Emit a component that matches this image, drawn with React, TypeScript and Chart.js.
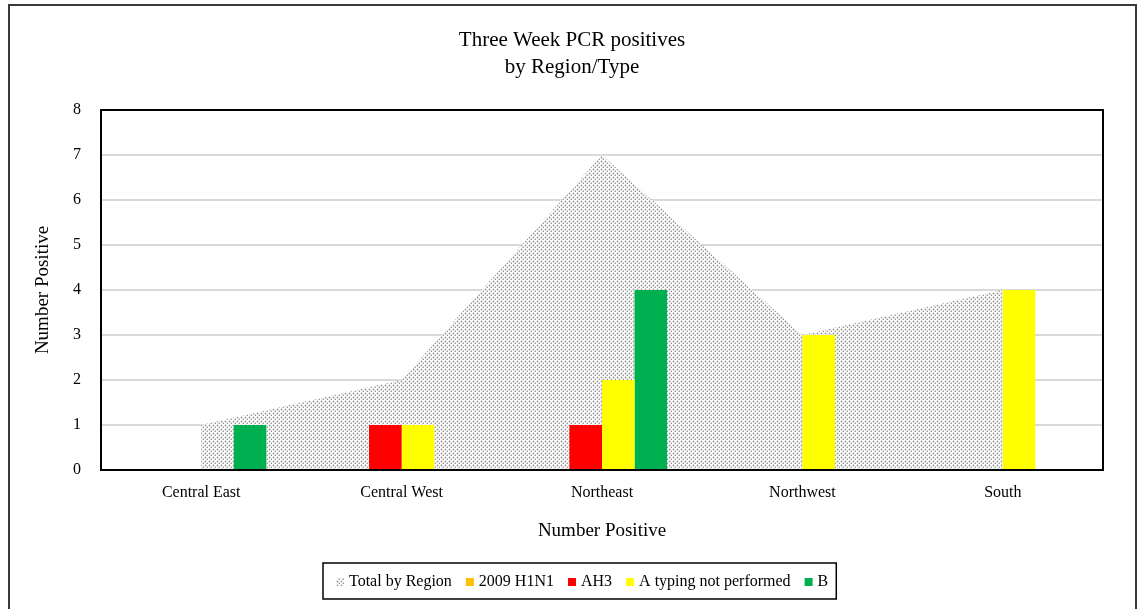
import React, { useEffect, useRef } from "react";
import { Chart, registerables } from "chart.js";

Chart.register(...registerables);

const categories = ["Central East", "Central West", "Northeast", "Northwest", "South"];
const totalByRegion = [1, 2, 7, 3, 4];
const h1n1 = [0, 0, 0, 0, 0];
const ah3 = [0, 1, 1, 0, 0];
const notTyped = [0, 1, 2, 3, 4];
const typeB = [1, 0, 4, 0, 0];
const seriesLabels = ["Total by Region", "2009 H1N1", "AH3", "A typing not performed", "B"];
const titleLines = ["Three Week PCR positives", "by Region/Type"];
const axisTitle = "Number Positive";

const FONT = "'Liberation Serif', 'Times New Roman', serif";

function makePattern(): CanvasPattern | string {
  const c = document.createElement("canvas");
  c.width = 4;
  c.height = 4;
  const g = c.getContext("2d");
  if (!g) return "#cccccc";
  g.fillStyle = "#ffffff";
  g.fillRect(0, 0, 4, 4);
  g.fillStyle = "#959595";
  g.beginPath();
  g.arc(1.5, 1.5, 0.9, 0, Math.PI * 2);
  g.fill();
  g.beginPath();
  g.arc(3.5, 3.5, 0.9, 0, Math.PI * 2);
  g.fill();
  const p = g.createPattern(c, "repeat");
  return p || "#cccccc";
}

export default function App() {
  const ref = useRef<HTMLCanvasElement | null>(null);

  useEffect(() => {
    const canvas = ref.current;
    if (!canvas) return;
    const pattern = makePattern();

    const framePlugin = {
      id: "framePlugin",
      beforeDraw(chart: any) {
        const ctx = chart.ctx;
        ctx.save();
        ctx.fillStyle = "#ffffff";
        ctx.fillRect(0, 0, chart.width, chart.height);
        ctx.strokeStyle = "#3a3a3a";
        ctx.lineWidth = 2;
        ctx.strokeRect(9, 5, 1127, 620);
        ctx.restore();
      },
      afterDatasetsDraw(chart: any) {
        const ctx = chart.ctx;
        const a = chart.chartArea;
        ctx.save();
        ctx.strokeStyle = "#000000";
        ctx.lineWidth = 2;
        ctx.strokeRect(a.left, a.top, a.right - a.left, a.bottom - a.top);
        ctx.restore();
      },
      afterDraw(chart: any) {
        const ctx = chart.ctx;
        ctx.save();
        ctx.fillStyle = "#000000";
        ctx.font = `21px ${FONT}`;
        ctx.textAlign = "center";
        ctx.textBaseline = "middle";
        ctx.fillText(titleLines[0], 572, 40);
        ctx.fillText(titleLines[1], 572, 67);
        const ds = chart.data.datasets;
        ctx.font = `16px ${FONT}`;
        ctx.textAlign = "left";
        ctx.textBaseline = "middle";
        let x = 336;
        const cy = 582;
        const widths = ds.map((d: any) => ctx.measureText(d.label).width);
        let total = 0;
        ds.forEach((d: any, i: number) => {
          total += 8 + 5 + widths[i] + (i < ds.length - 1 ? 14 : 0);
        });
        const boxLeft = 323;
        const boxRight = Math.max(835, x + total + 8);
        ctx.strokeStyle = "#000000";
        ctx.lineWidth = 1.5;
        ctx.strokeRect(boxLeft, 563, boxRight - boxLeft, 36);
        ds.forEach((d: any, i: number) => {
          ctx.fillStyle = d.backgroundColor;
          ctx.fillRect(x, cy - 4, 8, 8);
          ctx.fillStyle = "#000000";
          ctx.fillText(d.label, x + 13, cy);
          x += 8 + 5 + widths[i] + 14;
        });
        ctx.restore();
      },
    };

    const chart = new Chart(canvas, {
      type: "bar",
      data: {
        labels: categories,
        datasets: [
          {
            type: "line",
            label: seriesLabels[0],
            data: totalByRegion,
            backgroundColor: pattern as any,
            borderColor: "rgba(0,0,0,0)",
            borderWidth: 0,
            pointRadius: 0,
            fill: "origin",
            tension: 0,
          } as any,
          { label: seriesLabels[1], data: h1n1, backgroundColor: "#ffc000" },
          { label: seriesLabels[2], data: ah3, backgroundColor: "#ff0000" },
          { label: seriesLabels[3], data: notTyped, backgroundColor: "#ffff00" },
          { label: seriesLabels[4], data: typeB, backgroundColor: "#00b050" },
        ],
      },
      options: {
        responsive: false,
        animation: false,
        events: [],
        layout: { padding: { top: 110, right: 36, bottom: 59, left: 0 } },
        datasets: {
          bar: { categoryPercentage: 0.65, barPercentage: 1, borderWidth: 0 },
        },
        plugins: {
          legend: { display: false },
          title: { display: false },
          tooltip: { enabled: false },
          filler: { drawTime: "beforeDatasetsDraw" },
        } as any,
        scales: {
          x: {
            offset: true,
            grid: { display: false, drawTicks: false },
            border: { display: false },
            ticks: { color: "#000000", font: { family: FONT, size: 16 }, padding: 13, maxRotation: 0 },
            title: {
              display: true,
              text: axisTitle,
              color: "#000000",
              font: { family: FONT, size: 19 },
              padding: { top: 0, bottom: 8 },
            },
            afterFit: (s: any) => {
              s.height = 80;
            },
          },
          y: {
            min: 0,
            max: 8,
            ticks: { stepSize: 1, color: "#000000", font: { family: FONT, size: 16 }, padding: 20 },
            grid: { color: "#d9d9d9", lineWidth: 2, drawTicks: false },
            border: { display: false },
            title: {
              display: true,
              text: axisTitle,
              color: "#000000",
              font: { family: FONT, size: 19 },
              padding: { top: 32, bottom: 0 },
            },
            afterFit: (s: any) => {
              s.width = 101;
            },
          },
        },
      },
      plugins: [framePlugin],
    });

    return () => chart.destroy();
  }, []);

  return (
    <canvas
      ref={ref}
      width={1139}
      height={609}
      style={{ position: "fixed", left: 0, top: 0, width: 1139, height: 609 }}
    />
  );
}
